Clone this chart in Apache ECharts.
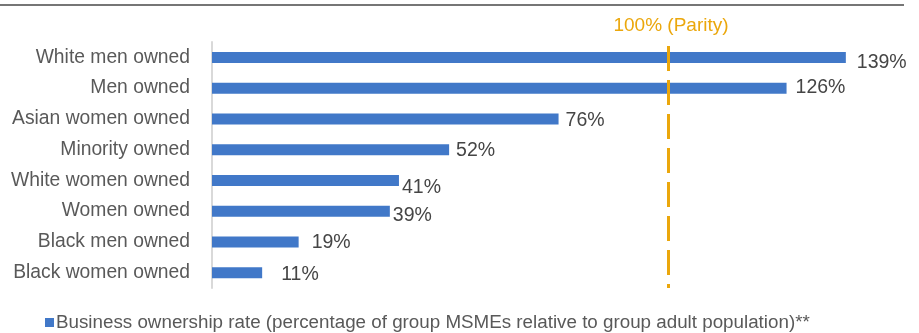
<!DOCTYPE html>
<html>
<head>
<meta charset="utf-8">
<script src="https://cdn.jsdelivr.net/npm/echarts@6/dist/echarts.min.js"></script>
<style>
  html, body { margin: 0; padding: 0; background: #fff; }
  #chart { width: 919px; height: 333px; }
</style>
</head>
<body>
<div id="chart"></div>
<script>
// Business ownership rate by owner group (percent of group adult population)
const categories = [
  'White men owned',
  'Men owned',
  'Asian women owned',
  'Minority owned',
  'White women owned',
  'Women owned',
  'Black men owned',
  'Black women owned'
];
const ownershipRate = [139, 126, 76, 52, 41, 39, 19, 11];
const parityValue = 100;
const parityLabel = '100% (Parity)';
const seriesName = 'Business ownership rate (percentage of group MSMEs relative to group adult population)**';

// Hand-placed value label nudges: [gap from bar end, vertical shift]
const labelNudges = [[11, 5], [9, -1], [7, 2], [7, 1], [3, 7], [3, 4], [13, 1], [19, 2]];

const FONT = '"Liberation Sans", Arial, sans-serif';
const GOLD = '#EBA70C';

const chart = echarts.init(document.getElementById('chart'), null, { renderer: 'canvas' });

chart.setOption({
  animation: false,
  textStyle: { fontFamily: FONT },
  graphic: [{
    type: 'line',
    shape: { x1: 0, y1: 5, x2: 904, y2: 5 },
    style: { stroke: '#767676', lineWidth: 2 },
    silent: true
  }],
  grid: { left: 212, right: 23, top: 42, height: 246 },
  xAxis: {
    type: 'value',
    min: 0,
    max: 150,
    show: false
  },
  yAxis: {
    type: 'category',
    data: categories,
    inverse: true,
    axisLine: { show: true, lineStyle: { color: '#D9D9D9', width: 2 } },
    axisTick: { show: false },
    axisLabel: { fontSize: 19.3, color: '#595959', margin: 22, fontFamily: FONT }
  },
  legend: {
    left: 40,
    top: 308,
    icon: 'rect',
    itemWidth: 9,
    itemHeight: 9,
    itemGap: 6,
    textStyle: { fontSize: 18.8, color: '#595959', fontFamily: FONT, padding: [0, 0, 0, -3] },
    data: [seriesName]
  },
  series: [{
    name: seriesName,
    type: 'bar',
    barWidth: 11,
    itemStyle: { color: '#4178C8' },
    data: ownershipRate.map((v, i) => ({
      value: v,
      label: { distance: labelNudges[i][0], offset: [0, labelNudges[i][1]] }
    })),
    label: {
      show: true,
      position: 'right',
      formatter: '{c}%',
      fontSize: 19.5,
      color: '#454545',
      fontFamily: FONT
    },
    markLine: {
      silent: true,
      symbol: ['none', 'none'],
      lineStyle: { color: GOLD, width: 3, type: [25, 9], dashOffset: 30 },
      label: {
        show: true,
        position: 'start',
        formatter: parityLabel,
        color: GOLD,
        fontSize: 19,
        fontFamily: FONT,
        distance: 7,
        offset: [3, 0]
      },
      data: [{ xAxis: parityValue }]
    }
  }]
});
</script>
</body>
</html>
